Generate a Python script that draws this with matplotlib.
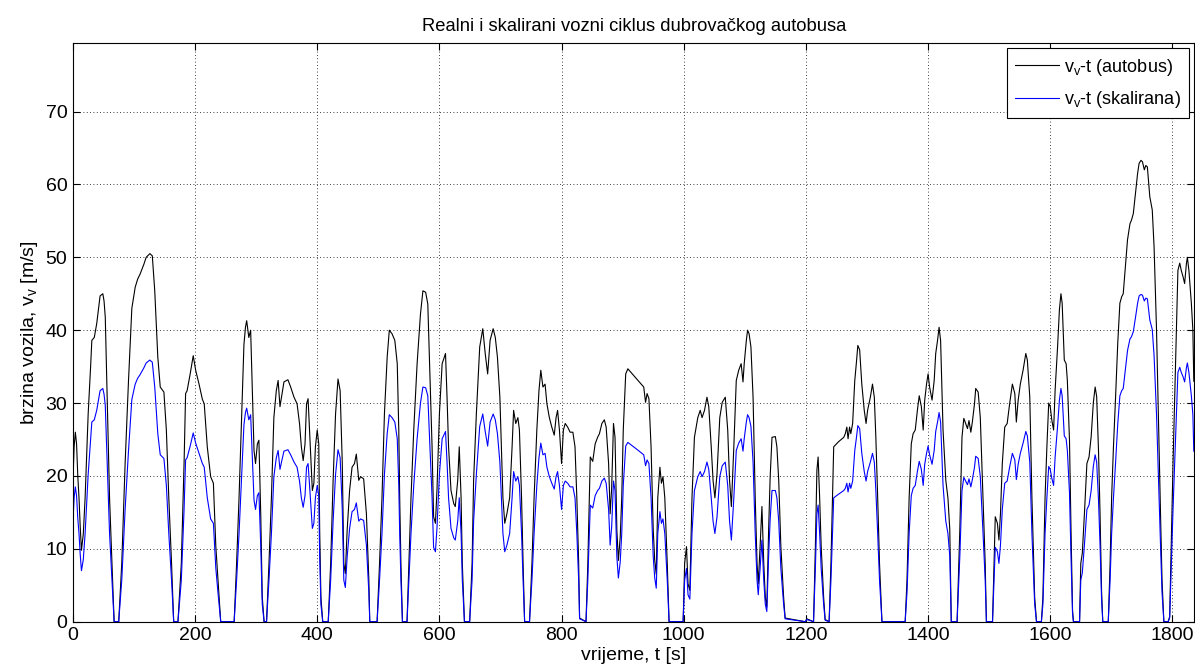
import matplotlib
matplotlib.use('Agg')
import matplotlib.pyplot as plt

plt.rcParams['font.family'] = ['Liberation Sans', 'DejaVu Sans']
plt.rcParams['mathtext.default'] = 'regular'

# vozni ciklus: vrijeme [s], brzina autobusa i skalirana brzina
t = [0, 2, 4, 6, 8, 10, 12, 14, 17, 20, 25, 29, 31, 35, 39, 42, 44.5, 49, 51, 53,
     55.5, 58, 60, 64, 67.5, 75, 80, 85.5, 91, 96.5, 102, 106, 110, 116, 120, 126, 130, 134, 139, 143,
     149, 153, 157, 161.5, 165, 172, 177.5, 182, 184.5, 187, 192, 197, 201, 206.5, 212, 215, 220, 225.5, 230, 234,
     237.5, 242, 264, 268, 272, 275.5, 280, 282.5, 284.5, 288, 291, 294, 296.5, 299, 302, 304.5, 307.5, 310, 313, 317,
     321, 325, 329, 333, 336, 339, 341.5, 345.5, 352, 356.5, 362, 367, 371, 374, 377, 380, 382.5, 385, 388, 392,
     394.5, 397, 400, 402.5, 404, 406, 409, 418, 422, 426, 430, 434, 437.5, 441, 443.5, 446, 449, 453, 457, 461,
     464, 468, 471, 476, 480.5, 484.5, 486, 498, 502, 506, 510, 514.5, 518, 522.5, 527, 531, 533.5, 535, 537, 539.5,
     547, 550, 553.5, 558, 563.5, 569, 573, 577.5, 581, 584, 588, 590.5, 593.5, 596, 600, 604.5, 610, 612.5, 615, 619,
     623.5, 626, 630, 632.5, 635.5, 637.5, 641, 649.5, 653.5, 656, 660.5, 666, 671, 675, 679, 683, 688, 691.5, 695, 699,
     701.5, 704, 707, 710.5, 715, 719, 721.5, 725, 728.5, 731, 734.5, 737, 739.5, 747.5, 751.5, 755, 759.5, 763, 766, 769.5,
     773, 776, 780, 784, 788, 791, 793.5, 796.5, 800, 803, 806, 810, 814, 818.5, 822, 825, 828, 829.5, 840, 843,
     847, 851, 855, 859, 862, 866, 870, 873, 877, 879.5, 882, 885, 887.5, 890.5, 893, 896, 898.5, 901, 905, 908.5,
     921, 934.5, 937.5, 940, 943, 946.5, 950, 952.5, 955, 957.5, 961, 963.5, 966, 969, 973, 976, 999, 1001.5, 1004.5, 1007,
     1010, 1013.5, 1017.5, 1023, 1027, 1030, 1034, 1038, 1041, 1045, 1048, 1051, 1054.5, 1059, 1063, 1068, 1072, 1075, 1078, 1082,
     1086, 1090, 1094, 1097, 1099, 1102.5, 1104.5, 1107, 1110, 1113.5, 1117, 1120, 1122, 1125, 1128, 1131, 1133.5, 1136, 1139, 1141.5,
     1144.5, 1150, 1152.5, 1155.5, 1159, 1163.5, 1166, 1199, 1201.5, 1212.5, 1215.5, 1218, 1220, 1222.5, 1225, 1229, 1231.5, 1238, 1241, 1243.5,
     1245.5, 1253.5, 1262, 1264.5, 1267, 1269, 1271.5, 1273.5, 1276.5, 1280, 1282.5, 1285, 1288, 1291.5, 1295.5, 1298.5, 1301, 1305.5, 1309, 1312,
     1314.5, 1317.5, 1320.5, 1324.5, 1362.5, 1365.5, 1369, 1372.5, 1375.5, 1379, 1382.5, 1385.5, 1389, 1392, 1394.5, 1397.5, 1400, 1402.5, 1406.5, 1410,
     1412.5, 1415.5, 1418, 1420.5, 1424.5, 1429, 1432.5, 1435.5, 1438, 1447.5, 1452, 1455.5, 1458.5, 1461.5, 1464.5, 1467, 1470, 1472.5, 1476, 1478,
     1482, 1485.5, 1490, 1493.5, 1495.5, 1505.5, 1508, 1510, 1513.5, 1516, 1518.5, 1521.5, 1525.5, 1529.5, 1533.5, 1538, 1542, 1544.5, 1547.5, 1551,
     1555.5, 1560, 1562.5, 1566.5, 1570, 1574.5, 1577.5, 1585.5, 1588, 1591.5, 1594.5, 1597.5, 1600, 1602.5, 1605.5, 1608, 1612, 1615, 1617.5, 1619.5,
     1623, 1626, 1628, 1631.5, 1634, 1636.5, 1638, 1648, 1650, 1652.5, 1656, 1660, 1663.5, 1667, 1670.5, 1673.5, 1676, 1679, 1681.5, 1684,
     1686, 1695, 1698, 1700.5, 1703.5, 1707, 1710.5, 1714, 1717, 1719.5, 1723.5, 1726.5, 1730.5, 1733, 1736, 1739.5, 1743, 1745.5, 1748.5, 1751,
     1754, 1756.5, 1759, 1763, 1767, 1770, 1774, 1777.5, 1780.5, 1783, 1786, 1793, 1795.5, 1798, 1801, 1804, 1806.5, 1809, 1812, 1814.5,
     1817.5, 1820, 1823, 1824.5, 1827, 1831, 1833.5, 1835]

v_autobus = [19, 24, 26, 24.4, 20, 17, 13, 9.8, 12, 17, 28.5, 35, 38.6, 39, 40.9, 43, 44.7, 45, 44, 41.8,
             33, 24, 17, 8, 0, 0, 8, 21.7, 33, 43, 45.9, 47, 47.7, 49, 50, 50.5, 50.2, 45.4, 36.3, 32.2,
             31.5, 26.3, 17, 8, 0, 0, 8, 21.7, 31.3, 31.7, 34, 36.5, 34.5, 32.6, 30.5, 29.9, 24, 19.9, 19, 10.3,
             5.7, 0, 0, 8, 17, 26.3, 38, 40.4, 41.3, 39, 40, 30.8, 23.5, 21.7, 24.4, 24.9, 14.8, 3.4, 0, 0,
             8, 17, 28, 31.7, 33.1, 29.5, 30.8, 32.9, 33.2, 32.2, 30.8, 29.9, 27.2, 24, 22.1, 24.4, 29.9, 30.6, 25.3, 18,
             19, 24, 26.3, 24.4, 12.6, 3.4, 0, 0, 8, 19.4, 28.5, 33.3, 31.7, 21.7, 8, 6.6, 12.6, 18, 21.2, 21.7,
             23, 19.4, 19.9, 19.6, 14.8, 5.7, 0, 0, 8, 17, 28.5, 36.3, 40, 39.5, 38.6, 35.4, 26.3, 17, 8, 0,
             0, 8, 17, 26.3, 35.4, 42.2, 45.4, 45.2, 43.6, 35.4, 24, 14.4, 13.5, 18, 28.5, 35.4, 36.8, 30.8, 24, 18,
             16.2, 15.8, 19.4, 24, 17, 8, 0, 0, 8, 19.4, 28.5, 37.7, 40.2, 36.8, 34, 38.6, 40.2, 39, 36.3, 30.8,
             24, 17, 13.5, 14.8, 17, 24, 29, 27.2, 28, 26.3, 17, 8, 0, 0, 8, 17, 26.3, 31.7, 34.5, 32.2,
             32.6, 29.9, 28, 26.7, 25.6, 28, 29, 26.3, 21.7, 26.3, 27.2, 26.7, 26, 26, 24, 17, 8, 0.5, 0, 8,
             22.6, 22, 24.4, 25.3, 25.8, 27.2, 27.7, 26.7, 21.7, 14.8, 18.3, 27.2, 25.3, 12.6, 8.4, 11.6, 17, 26.3, 34, 34.7,
             33.5, 32.2, 30.1, 31.3, 30.6, 24, 12.7, 8.4, 6.5, 17, 21.2, 19, 19.9, 17, 8, 0, 0, 8, 10.3, 5.2,
             4.3, 17, 25.3, 28, 29, 28, 29, 30.8, 29.5, 24, 19.4, 17, 20.3, 28, 30.1, 30.8, 26.3, 19.4, 15.8, 24,
             33.1, 34.5, 35.4, 32.9, 35.4, 38.6, 40, 39.5, 37.7, 30.8, 17, 8, 5.2, 10.3, 15.8, 8, 3.4, 2, 12.7, 19.9,
             25.3, 25.4, 24, 19.4, 10.3, 3.4, 0.5, 0, 0.4, 0, 10.3, 20.8, 22.6, 17, 10.3, 3.4, 0.3, 0, 8, 17,
             24, 24.7, 25.3, 25.8, 26.7, 25.1, 26.7, 25.8, 27.2, 33.1, 35.4, 37.9, 37.3, 32.6, 29, 27.2, 29, 30.8, 32.6, 30.8,
             25.3, 17, 8, 0, 0, 5.7, 17, 24.4, 25.8, 26.3, 29, 31, 29.5, 26.3, 30.4, 32.6, 34, 32.2, 30.4, 33.1,
             36.8, 38.6, 40.4, 38.6, 26.3, 19.4, 17, 12.7, 0, 0, 12.7, 25.3, 27.9, 27.2, 26.5, 27.6, 26, 27.4, 29.9, 32,
             31.5, 28, 17, 8, 0, 0, 8, 14.4, 13.5, 11.2, 14.8, 21.7, 26.7, 27.2, 29.9, 32.6, 31.3, 27.4, 30.4, 32.6,
             34.5, 36.8, 35.9, 30.8, 17, 3.4, 0, 0, 3.4, 17, 24, 30, 29.5, 27.7, 26.3, 31.8, 37.7, 42.8, 45, 43.7,
             35.9, 35.4, 33.1, 24.9, 12.6, 1.6, 0, 0, 8, 9.4, 14.9, 21.7, 22.6, 25.4, 30, 32.2, 30.9, 23.5, 14.9, 4.3,
             0, 0, 8, 17.1, 24, 30.9, 38.2, 43.7, 44.6, 45, 49.2, 52.4, 54.6, 55.1, 56, 58.8, 61.5, 62.9, 63.3, 63.1,
             62, 62.6, 62.4, 58.3, 56.5, 51.4, 40, 26.3, 14.9, 5.7, 0, 0, 0.7, 10.3, 21.7, 31.8, 40, 48.2, 49.2, 48.2,
             47.3, 46.4, 49.2, 50, 48.2, 43.7, 40, 33]

v_skalirana = [13.5, 17.0, 18.5, 17.3, 14.2, 12.1, 9.2, 7.0, 8.5, 12.1, 20.2, 24.9, 27.4, 27.7, 29.0, 30.5, 31.7, 32.0, 31.2, 29.7,
               23.4, 17.0, 12.1, 5.7, 0, 0, 5.7, 15.4, 23.4, 30.5, 32.6, 33.4, 33.9, 34.8, 35.5, 35.9, 35.6, 32.2, 25.8, 22.9,
               22.4, 18.7, 12.1, 5.7, 0, 0, 5.7, 15.4, 22.2, 22.5, 24.1, 25.9, 24.5, 23.1, 21.7, 21.2, 17.0, 14.1, 13.5, 7.3,
               4.0, 0, 0, 5.7, 12.1, 18.7, 27.0, 28.7, 29.3, 27.7, 28.4, 21.9, 16.7, 15.4, 17.3, 17.7, 10.5, 2.4, 0, 0,
               5.7, 12.1, 19.9, 22.5, 23.5, 20.9, 21.9, 23.4, 23.6, 22.9, 21.9, 21.2, 19.3, 17.0, 15.7, 17.3, 21.2, 21.7, 18.0, 12.8,
               13.5, 17.0, 18.7, 17.3, 8.9, 2.4, 0, 0, 5.7, 13.8, 20.2, 23.6, 22.5, 15.4, 5.7, 4.7, 8.9, 12.8, 15.1, 15.4,
               16.3, 13.8, 14.1, 13.9, 10.5, 4.0, 0, 0, 5.7, 12.1, 20.2, 25.8, 28.4, 28.0, 27.4, 25.1, 18.7, 12.1, 5.7, 0,
               0, 5.7, 12.1, 18.7, 25.1, 30.0, 32.2, 32.1, 31.0, 25.1, 17.0, 10.2, 9.6, 12.8, 20.2, 25.1, 26.1, 21.9, 17.0, 12.8,
               11.5, 11.2, 13.8, 17.0, 12.1, 5.7, 0, 0, 5.7, 13.8, 20.2, 26.8, 28.5, 26.1, 24.1, 27.4, 28.5, 27.7, 25.8, 21.9,
               17.0, 12.1, 9.6, 10.5, 12.1, 17.0, 20.6, 19.3, 19.9, 18.7, 12.1, 5.7, 0, 0, 5.7, 12.1, 18.7, 22.5, 24.5, 22.9,
               23.1, 21.2, 19.9, 19.0, 18.2, 19.9, 20.6, 18.7, 15.4, 18.7, 19.3, 19.0, 18.5, 18.5, 17.0, 12.1, 5.7, 0.4, 0, 5.7,
               16.0, 15.6, 17.3, 18.0, 18.3, 19.3, 19.7, 19.0, 15.4, 10.5, 13.0, 19.3, 18.0, 8.9, 6.0, 8.2, 12.1, 18.7, 24.1, 24.6,
               23.8, 22.9, 21.4, 22.2, 21.7, 17.0, 9.0, 6.0, 4.6, 12.1, 15.1, 13.5, 14.1, 12.1, 5.7, 0, 0, 5.7, 7.3, 3.7,
               3.1, 12.1, 18.0, 19.9, 20.6, 19.9, 20.6, 21.9, 20.9, 17.0, 13.8, 12.1, 14.4, 19.9, 21.4, 21.9, 18.7, 13.8, 11.2, 17.0,
               23.5, 24.5, 25.1, 23.4, 25.1, 27.4, 28.4, 28.0, 26.8, 21.9, 12.1, 5.7, 3.7, 7.3, 11.2, 5.7, 2.4, 1.4, 9.0, 14.1,
               18.0, 18.0, 17.0, 13.8, 7.3, 2.4, 0.4, 0, 0.3, 0, 7.3, 14.8, 16.0, 12.1, 7.3, 2.4, 0.2, 0, 5.7, 12.1,
               17.0, 17.5, 18.0, 18.3, 19.0, 17.8, 19.0, 18.3, 19.3, 23.5, 25.1, 26.9, 26.5, 23.1, 20.6, 19.3, 20.6, 21.9, 23.1, 21.9,
               18.0, 12.1, 5.7, 0, 0, 4.0, 12.1, 17.3, 18.3, 18.7, 20.6, 22.0, 20.9, 18.7, 21.6, 23.1, 24.1, 22.9, 21.6, 23.5,
               26.1, 27.4, 28.7, 27.4, 18.7, 13.8, 12.1, 9.0, 0, 0, 9.0, 18.0, 19.8, 19.3, 18.8, 19.6, 18.5, 19.5, 21.2, 22.7,
               22.4, 19.9, 12.1, 5.7, 0, 0, 5.7, 10.2, 9.6, 8.0, 10.5, 15.4, 19.0, 19.3, 21.2, 23.1, 22.2, 19.5, 21.6, 23.1,
               24.5, 26.1, 25.5, 21.9, 12.1, 2.4, 0, 0, 2.4, 12.1, 17.0, 21.3, 20.9, 19.7, 18.7, 22.6, 26.8, 30.4, 32.0, 31.0,
               25.5, 25.1, 23.5, 17.7, 8.9, 1.1, 0, 0, 5.7, 6.7, 10.6, 15.4, 16.0, 18.0, 21.3, 22.9, 21.9, 16.7, 10.6, 3.1,
               0, 0, 5.7, 12.1, 17.0, 21.9, 27.1, 31.0, 31.7, 32.0, 34.9, 37.2, 38.8, 39.1, 39.8, 41.7, 43.7, 44.7, 44.9, 44.8,
               44.0, 44.4, 44.3, 41.4, 40.1, 36.5, 28.4, 18.7, 10.6, 4.0, 0, 0, 0.5, 7.3, 15.4, 22.6, 28.4, 34.2, 34.9, 34.2,
               33.6, 32.9, 34.9, 35.5, 34.2, 31.0, 28.4, 23.4]

x_ticks = list(range(0, 1801, 200))
y_ticks = list(range(0, 71, 10))

fig = plt.figure(figsize=(11.95, 6.69), dpi=100)
ax = fig.add_axes([0.061, 0.0707, 0.9385, 0.865])

ax.plot(t, v_autobus, color='black', linewidth=0.8, label='v$_{v}$-t (autobus)')
ax.plot(t, v_skalirana, color='blue', linewidth=0.8, label='v$_{v}$-t (skalirana)')

ax.set_xlim(0, 1836)
ax.set_ylim(0, 79.4)
ax.set_xticks(x_ticks)
ax.set_yticks(y_ticks)
ax.tick_params(direction='in', top=True, right=True, labelsize=14, length=5, width=0.8, pad=4)
ax.grid(True, color='black', linestyle=(0, (1, 3)), linewidth=0.6)
for s in ax.spines.values():
    s.set_linewidth(0.8)

ax.set_title('Realni i skalirani vozni ciklus dubrovačkog autobusa', fontsize=13.2, pad=9)
ax.set_xlabel('vrijeme, t [s]', fontsize=14, labelpad=2)
ax.set_ylabel('brzina vozila, v$_{v}$ [m/s]', fontsize=14, labelpad=4)

leg = ax.legend(loc='upper right', fontsize=13, fancybox=False, framealpha=1,
                edgecolor='black', borderaxespad=0.3, handlelength=2.4, handletextpad=0.3,
                labelspacing=0.65, borderpad=0.45)
leg.get_frame().set_linewidth(0.8)

fig.savefig('out.png', dpi=100)
